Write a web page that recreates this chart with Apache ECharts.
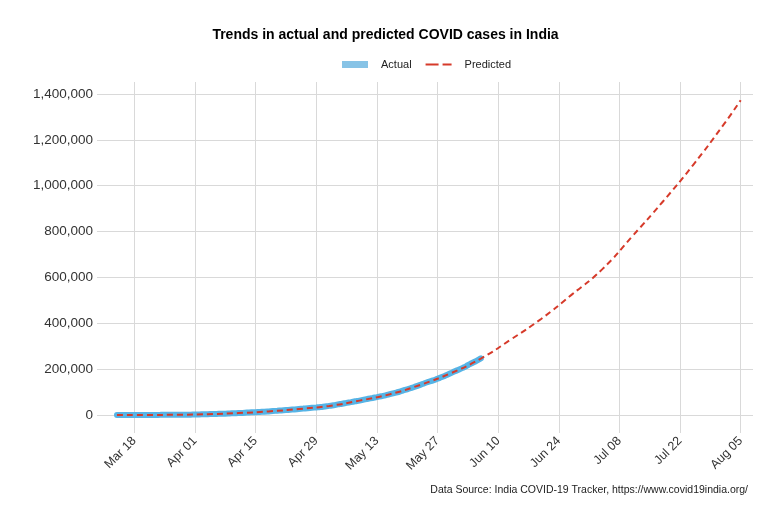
<!DOCTYPE html>
<html>
<head>
<meta charset="utf-8">
<script src="https://cdn.jsdelivr.net/npm/echarts@6/dist/echarts.min.js"></script>
<style>
html,body{margin:0;padding:0;background:#fff;}
#chart{width:771px;height:519px;}
</style>
</head>
<body>
<div id="chart"></div>
<script>
// ---- Data ----
const titleText = 'Trends in actual and predicted COVID cases in India';
const captionText = 'Data Source: India COVID-19 Tracker, https://www.covid19india.org/';

// Actual cumulative cases (daily, from 2020-03-14)
const actualStart = '2020-03-14';
const actualValues = [
  102, 112, 126, 146, 171, 198, 256, 334, 403, 497, 571, 657, 730, 883, 1019, 1139, 1326, 1635,
  2059, 2545, 3105, 3684, 4293, 4777, 5350, 5915, 6728, 7599, 8453, 9211, 10454, 11487, 12371,
  13432, 14424, 15774, 17312, 18603, 20080, 21373, 23040, 24448, 26283, 27890, 29451, 31324,
  33062, 34863, 37257, 39699, 42505, 46437, 49400, 52987, 56351, 59695, 62808, 67161, 70768,
  74292, 78055, 81997, 85784, 90648, 95698, 100328, 106475, 112028, 118226, 124794, 131423,
  138536, 144950, 150793, 158086, 165386, 173491, 181827, 190609, 198370, 207191, 216824,
  226713, 236184, 246622
];

// Predicted cumulative cases
const predictedDates = [
  '2020-03-14','2020-03-21','2020-03-28','2020-04-04','2020-04-11','2020-04-18','2020-04-25',
  '2020-05-02','2020-05-09','2020-05-16','2020-05-23','2020-05-30','2020-06-06','2020-06-13',
  '2020-06-20','2020-06-27','2020-07-04','2020-07-11','2020-07-18','2020-07-25','2020-08-01',
  '2020-08-05'
];
const predictedValues = [
  100, 330, 1000, 3700, 8400, 15700, 26200,
  39600, 62700, 90500, 131300, 181700, 246000, 330000,
  420000, 525000, 635000, 780000, 930000, 1090000, 1265000,
  1373000
];

// Tick labels
const xTickDates = ['2020-03-18','2020-04-01','2020-04-15','2020-04-29','2020-05-13','2020-05-27',
  '2020-06-10','2020-06-24','2020-07-08','2020-07-22','2020-08-05'];
const yTickValues = [0, 200000, 400000, 600000, 800000, 1000000, 1200000, 1400000];

// ---- Helpers ----
const DAY = 86400000;
function ts(s){ const p = s.split('-').map(Number); return Date.UTC(p[0], p[1]-1, p[2]); }
const MONTHS = ['Jan','Feb','Mar','Apr','May','Jun','Jul','Aug','Sep','Oct','Nov','Dec'];
function fmtDate(v){
  const d = new Date(v);
  const dd = d.getUTCDate();
  return MONTHS[d.getUTCMonth()] + ' ' + (dd < 10 ? '0' + dd : dd);
}
function fmtNum(v){ return Math.round(v).toString().replace(/\B(?=(\d{3})+(?!\d))/g, ','); }

const actualData = actualValues.map((v, i) => [ts(actualStart) + i * DAY, v]);
const predictedData = predictedDates.map((d, i) => [ts(d), predictedValues[i]]);
const xTicks = xTickDates.map(ts);

// dashed-line legend icon (bounding box 26x7, dashes 2px tall in the middle)
const DASH_ICON = 'path://M0,0L0.01,0L0.01,0.01Z M0,2.5h13v2h-13Z M17,2.5h9v2h-9Z M25.99,7L26,7L26,6.99Z';

const FONT = '"Liberation Sans", Arial, sans-serif';
const chart = echarts.init(document.getElementById('chart'), null, {renderer: 'canvas'});
chart.setOption({
  backgroundColor: '#ffffff',
  animation: false,
  title: {
    text: titleText,
    left: 'center',
    top: 23,
    textStyle: {fontFamily: FONT, fontSize: 14, fontWeight: 'bold', color: '#000'}
  },
  legend: {
    top: 59,
    left: 342,
    padding: 0,
    itemGap: 14,
    itemWidth: 26,
    itemHeight: 7,
    textStyle: {fontFamily: FONT, fontSize: 11, color: '#222', padding: [0, 0, 0, 8]},
    data: [
      {name: 'Actual', icon: 'rect', itemStyle: {color: '#87c3e6'}},
      {name: 'Predicted', icon: DASH_ICON, itemStyle: {color: '#d63a2a'}}
    ]
  },
  graphic: [{
    type: 'text',
    right: 23,
    top: 485,
    style: {text: captionText, font: '10.5px ' + FONT, fill: '#222'}
  }],
  grid: {left: 97, right: 18, top: 82, bottom: 86, containLabel: false},
  xAxis: {
    type: 'value',
    min: ts('2020-03-18') - 8.61 * DAY,
    max: ts('2020-08-05') + 2.84 * DAY,
    axisLine: {show: false},
    axisTick: {show: false, customValues: xTicks},
    splitLine: {show: true, lineStyle: {color: '#d9d9d9', width: 1}},
    axisLabel: {
      customValues: xTicks,
      rotate: 45,
      margin: 6,
      formatter: fmtDate,
      fontFamily: FONT,
      fontSize: 12.5,
      color: '#333'
    }
  },
  yAxis: {
    type: 'value',
    min: -78500,
    max: 1452300,
    axisLine: {show: false},
    axisTick: {show: false, customValues: yTickValues},
    splitLine: {show: true, lineStyle: {color: '#d9d9d9', width: 1}},
    axisLabel: {
      customValues: yTickValues,
      margin: 4,
      formatter: fmtNum,
      fontFamily: FONT,
      fontSize: 13.5,
      color: '#333'
    }
  },
  series: [
    {
      name: 'Actual',
      type: 'line',
      data: actualData,
      showSymbol: false,
      symbol: 'none',
      smooth: true,
      lineStyle: {color: '#56b4e6', width: 6, cap: 'round'},
      itemStyle: {color: '#87c3e6'},
      z: 2
    },
    {
      name: 'Predicted',
      type: 'line',
      data: predictedData,
      showSymbol: false,
      symbol: 'none',
      smooth: true,
      lineStyle: {color: '#d63a2a', width: 2, type: [6, 4]},
      itemStyle: {color: '#d63a2a'},
      z: 3
    }
  ]
});
</script>
</body>
</html>
